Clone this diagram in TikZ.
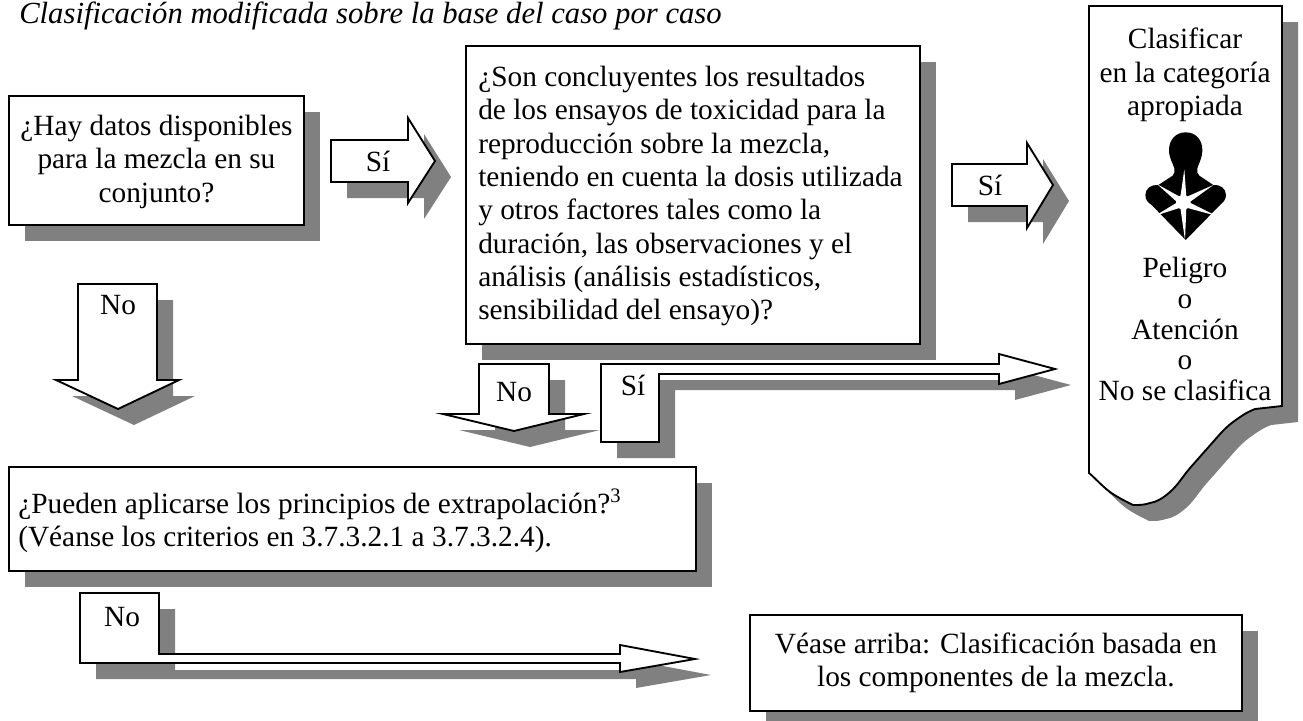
\documentclass[tikz,border=0pt]{standalone}
\usepackage{fontspec}
\setmainfont{Liberation Serif}
\usetikzlibrary{shadows}
\definecolor{shd}{HTML}{808080}
\tikzset{
  x=0.75pt,y=-0.75pt,
  every node/.style={font=\fontsize{22}{25}\selectfont,inner sep=0pt,text=black},
  shadowfill/.style={fill=shd,draw=none},
  outline/.style={fill=white,draw=black,line width=1.4pt,line join=miter},
  flowbox/.style={draw=black,fill=white,line width=1.4pt,align=center,anchor=north west,
    drop shadow={shadow xshift=12pt,shadow yshift=-12pt,fill=shd,opacity=1}},
  lbl/.style={align=center},
}
\newcommand{\blockshape}[1]{\fill[shadowfill,shift={(16,16)}] #1; \filldraw[outline] #1;}
\begin{document}
\begin{tikzpicture}
\useasboundingbox (0,0) rectangle (1303,721);
\clip (0,0) rectangle (1303,721);
\node[anchor=base west,font=\fontsize{23}{25}\selectfont\itshape] (title) at (19,23) {Clasificación modificada sobre la base del caso por caso};

\node[flowbox,minimum width=295*0.75,minimum height=129*0.75] (datos) at (8,95) {};
\node[lbl,yshift=-1pt] (datostxt) at (datos.center) {¿Hay datos disponibles\\para la mezcla en su\\conjunto?};

\node[flowbox,minimum width=454*0.75,minimum height=298*0.75] (ensayos) at (465,45) {};
\node[lbl,align=left,anchor=north west] (ensayostxt) at (478,66) {¿Son concluyentes los resultados\\de los ensayos de toxicidad para la\\reproducción sobre la mezcla,\\teniendo en cuenta la dosis utilizada\\y otros factores tales como la\\duración, las observaciones y el\\análisis (análisis estadísticos,\\sensibilidad del ensayo)?};

\node[flowbox,minimum width=687*0.75,minimum height=104*0.75] (extrap) at (8,466) {};
\node[lbl,align=left,anchor=west] (extraptxt) at (18,521) {¿Pueden aplicarse los principios de extrapolación?\textsuperscript{3}\\(Véanse los criterios en 3.7.3.2.1 a 3.7.3.2.4).};

\node[flowbox,minimum width=492*0.75,minimum height=96*0.75] (vease) at (749,614) {};
\node[lbl] (veasetxt) at (vease.center) {Véase arriba: Clasificación basada en\\los componentes de la mezcla.};

% block arrows
\blockshape{(331,140) -- (408,140) -- (408,118) -- (435,161) -- (408,203) -- (408,182) -- (331,182) -- cycle}
\node[lbl] (si1) at (378,161) {Sí};
\blockshape{(952,164) -- (1027,164) -- (1027,143) -- (1053,185) -- (1027,228) -- (1027,206) -- (952,206) -- cycle}
\node[lbl] (si2) at (990,185) {Sí};
\blockshape{(78,284) -- (157,284) -- (157,380) -- (179,380) -- (118,409) -- (56,380) -- (78,380) -- cycle}
\node[lbl] (no1) at (118,305) {No};
\blockshape{(479,364) -- (549,364) -- (549,414) -- (584,414) -- (514,431) -- (443,414) -- (479,414) -- cycle}
\node[lbl] (no2) at (514,392) {No};
\blockshape{(601,364) -- (999,364) -- (999,354) -- (1055,369) -- (999,384) -- (999,374) -- (659,374) -- (659,442) -- (601,442) -- cycle}
\node[lbl] (si3) at (633,385) {Sí};
\blockshape{(80,593) -- (159,593) -- (159,654) -- (620,654) -- (620,645) -- (695,659) -- (620,672) -- (620,663) -- (80,663) -- cycle}
\node[lbl] (no3) at (122,617) {No};

% classification panel
\blockshape{(1089,6) -- (1282,6) -- (1282,406) -- (1255,409) .. controls (1245,413) and (1240,417) .. (1233,422) .. controls (1225,428) and (1220,434) .. (1213,442) .. controls (1205,451) and (1198,459) .. (1190,468) .. controls (1183,476) and (1178,485) .. (1170,492) .. controls (1163,498) and (1157,502) .. (1150,503) .. controls (1144,505) and (1140,505) .. (1133,505) .. controls (1125,501) and (1117,497) .. (1110,492) .. controls (1102,486) and (1096,479) .. (1089,473) -- cycle}
\node[lbl] (clasif) at (1185,75) {Clasificar\\en la categoría\\apropiada};
\node[lbl,font=\fontsize{22}{23}\selectfont] (result) at (1185,329) {Peligro\\o\\Atención\\o\\No se clasifica};

% hazard pictogram
\begin{scope}[shift={(1120,125)},x=0.25pt,y=-0.25pt]
\fill[black] (197,22) .. controls (228,22) and (247,45) .. (247,75) .. controls (247,100) and (236,115) .. (232,130) .. controls (231,140) and (232,148) .. (238,152) -- (280,180) .. controls (300,178) and (318,190) .. (318,210) .. controls (318,225) and (308,233) .. (300,240) -- (197,345) -- (95,240) .. controls (85,233) and (76,225) .. (76,210) .. controls (76,190) and (94,178) .. (115,180) -- (158,152) .. controls (163,148) and (164,140) .. (163,130) .. controls (159,115) and (147,100) .. (147,75) .. controls (147,45) and (167,22) .. (197,22) -- cycle;
\fill[white] (193,133) -- (199,216) -- (280,180) -- (208,232) -- (288,272) -- (199,248) -- (195,346) -- (181,248) -- (106,272) -- (172,232) -- (112,178) -- (181,216) -- cycle;
\fill[white] (190,232) circle[radius=22];
\end{scope}
\end{tikzpicture}
\end{document}
